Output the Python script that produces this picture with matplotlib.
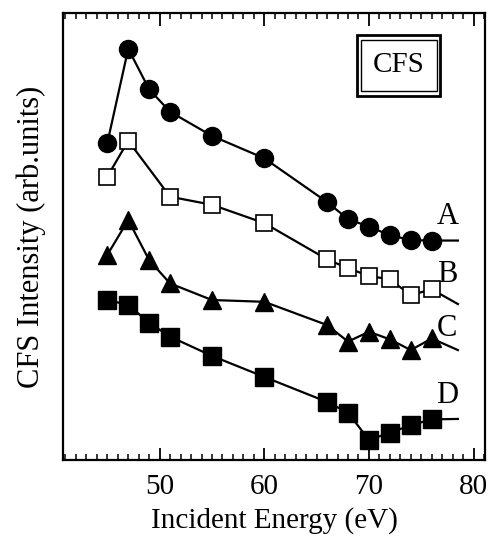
import matplotlib
matplotlib.use("Agg")
import matplotlib.pyplot as plt
from matplotlib.patches import Rectangle
from matplotlib.ticker import MultipleLocator

plt.rcParams['font.family'] = ['Liberation Serif', 'DejaVu Serif']

energy_A = [45, 47, 49, 51, 55, 60, 66, 68, 70, 72, 74, 76]
int_A = [7.09, 9.20, 8.29, 7.79, 7.25, 6.75, 5.77, 5.39, 5.22, 5.03, 4.92, 4.91]
energy_B = [45, 47, 51, 55, 60, 66, 68, 70, 72, 74, 76]
int_B = [6.34, 7.14, 5.89, 5.71, 5.30, 4.49, 4.29, 4.12, 4.04, 3.69, 3.82]
energy_C = [45, 47, 49, 51, 55, 60, 66, 68, 70, 72, 74, 76]
int_C = [4.59, 5.37, 4.47, 3.95, 3.58, 3.54, 3.02, 2.65, 2.87, 2.70, 2.46, 2.72]
energy_D = [45, 47, 49, 51, 55, 60, 66, 68, 70, 72, 74, 76]
int_D = [3.58, 3.47, 3.07, 2.76, 2.33, 1.86, 1.30, 1.06, 0.45, 0.61, 0.78, 0.91]

# fitted guide lines (extend past last point)
line_end_x = 78.5
line_end_y = {'A': 4.91, 'B': 3.49, 'C': 2.46, 'D': 0.92}

series = [
    ('A', energy_A, int_A, dict(marker='o', mfc='black', mec='black', ms=13)),
    ('B', energy_B, int_B, dict(marker='s', mfc='white', mec='black', ms=12, mew=1.2)),
    ('C', energy_C, int_C, dict(marker='^', mfc='black', mec='black', ms=13)),
    ('D', energy_D, int_D, dict(marker='s', mfc='black', mec='black', ms=13)),
]
label_pos = {'A': 5.44, 'B': 4.16, 'C': 2.95, 'D': 1.45}

fig = plt.figure(figsize=(4.91, 5.40), dpi=100)
ax = fig.add_axes([0.128, 0.148, 0.860, 0.828])

for name, xs, ys, st in series:
    ax.plot(list(xs) + [line_end_x], list(ys) + [line_end_y[name]],
            color='black', lw=1.6, zorder=2)
    ax.plot(xs, ys, ls='none', zorder=3, **st)
    ax.text(77.5, label_pos[name], name, fontsize=22, ha='center', va='center')

ax.set_xlim(40.75, 81.1)
ax.set_ylim(0, 10)
ax.xaxis.set_major_locator(MultipleLocator(10))
ax.xaxis.set_minor_locator(MultipleLocator(1))
ax.set_yticks([])
ax.tick_params(axis='x', which='major', direction='in', length=9, width=1.3,
               top=True, labelsize=21, pad=10)
ax.tick_params(axis='x', which='minor', direction='in', length=4.5, width=1.1,
               top=True)
for s in ax.spines.values():
    s.set_linewidth(1.6)

ax.set_xlabel('Incident Energy (eV)', fontsize=21, labelpad=5)
ax.set_ylabel('CFS Intensity (arb.units)', fontsize=22, labelpad=12)

# double-framed CFS label
ax.add_patch(Rectangle((0.697, 0.815), 0.196, 0.135, transform=ax.transAxes,
                       fill=False, lw=2.0, ec='black', zorder=4))
ax.add_patch(Rectangle((0.705, 0.826), 0.180, 0.113, transform=ax.transAxes,
                       fill=False, lw=1.0, ec='black', zorder=4))
ax.text(0.795, 0.8825, 'CFS', transform=ax.transAxes, fontsize=21,
        ha='center', va='center')

fig.savefig('out.png', dpi=100)
